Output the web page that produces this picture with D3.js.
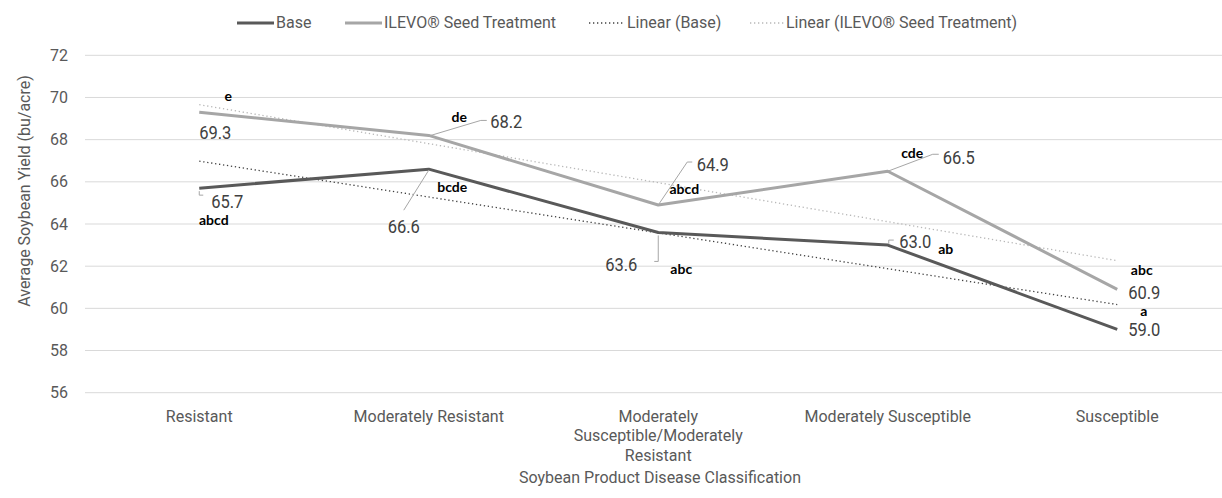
<!DOCTYPE html>
<html><head><meta charset="utf-8">
<script src="https://cdn.jsdelivr.net/npm/d3@7"></script>
<style>
body{margin:0;background:#fff;}
svg{display:block;}
.cond{font-family:Roboto,"Liberation Sans",sans-serif;}
.bold{font-family:Lato,"Open Sans",sans-serif;font-weight:700;}
</style></head>
<body><svg id="c" width="1222" height="498"></svg>
<script>
const categories = ["Resistant","Moderately Resistant","Moderately Susceptible/Moderately Resistant","Moderately Susceptible","Susceptible"];
const categoryLines = [["Resistant"],["Moderately Resistant"],["Moderately","Susceptible/Moderately","Resistant"],["Moderately Susceptible"],["Susceptible"]];
const baseValues = [65.7, 66.6, 63.6, 63.0, 59.0];
const ilevoValues = [69.3, 68.2, 64.9, 66.5, 60.9];
const baseLetters = ["abcd","bcde","abc","ab","a"];
const ilevoLetters = ["e","de","abcd","cde","abc"];
const yTicks = [56,58,60,62,64,66,68,70,72];
const legendNames = ["Base","ILEVO® Seed Treatment","Linear (Base)","Linear (ILEVO® Seed Treatment)"];

// label layout (pixel offsets from each point)
const baseValOff = [[28,13],[-25,57],[-37,32],[27.5,-4],[27,0]];
const ilevoValOff = [[16,20],[77.5,-14],[54.5,-41],[71,-14],[27,2.5]];
const baseLetOff = [[14.5,32],[23.5,18],[23,36.5],[58,4],[26.5,-18.6]];
const ilevoLetOff = [[29,-16],[30.5,-18.5],[26,-16],[24.5,-18],[24.5,-19.5]];
const baseLeaders = [[[0,3],[0,7],[4,7]],[[0,1],[-25,41]],[[0,3],[0,29],[-4,29]],[[1,-1],[1,-5],[6,-5]],null];
const ilevoLeaders = [null,[[2,0],[52,-15],[58,-15]],[[0,0],[29,-43],[34,-43]],[[0,0],[45,-17],[51,-17]],null];

const svg = d3.select("#c");
const x = d3.scaleBand().domain(categories).range([84.5,1232]).padding(0);
const cx = c => x(c) + x.bandwidth()/2;
const y = d3.scaleLinear().domain([56,72]).range([392.7,55.3]);

svg.append("g").selectAll("line").data(yTicks).join("line")
  .attr("x1",85).attr("x2",1222).attr("y1",d=>y(d)).attr("y2",d=>y(d))
  .attr("stroke","#d9d9d9").attr("stroke-width",1);
svg.append("g").selectAll("text").data(yTicks).join("text").attr("class","cond")
  .attr("x",68).attr("y",d=>y(d)).attr("dy","0.35em").attr("text-anchor","end")
  .attr("font-size",16).attr("fill","#595959").text(d=>d);
const xl = svg.append("g");
categories.forEach((c,i)=>{
  const t = xl.append("text").attr("class","cond").attr("text-anchor","middle")
    .attr("font-size",16).attr("fill","#595959");
  categoryLines[i].forEach((ln,j)=>{
    t.append("tspan").attr("x",cx(c)).attr("y",416+j*19.5).attr("dy","0.35em").text(ln);
  });
});
svg.append("text").attr("class","cond").attr("x",660).attr("y",477).attr("dy","0.35em")
  .attr("text-anchor","middle").attr("font-size",16).attr("fill","#595959")
  .text("Soybean Product Disease Classification");
svg.append("text").attr("class","cond").attr("transform","translate(24,191) rotate(-90)")
  .attr("dy","0.35em").attr("text-anchor","middle").attr("font-size",16).attr("fill","#595959")
  .text("Average Soybean Yield (bu/acre)");

function trend(vals){
  const n=vals.length, xs=vals.map((v,i)=>i+1);
  const mx=d3.mean(xs), my=d3.mean(vals);
  const b=d3.sum(xs.map((xx,i)=>(xx-mx)*(vals[i]-my)))/d3.sum(xs.map(xx=>(xx-mx)**2));
  const a=my-b*mx;
  return [[0,a+b*1],[n-1,a+b*n]];
}
const line = d3.line().x(d=>cx(categories[d[0]])).y(d=>y(d[1]));
svg.append("path").datum(trend(baseValues)).attr("d",line).attr("fill","none")
  .attr("stroke","#404040").attr("stroke-width",1.3).attr("stroke-dasharray","1.3,2.7");
svg.append("path").datum(trend(ilevoValues)).attr("d",line).attr("fill","none")
  .attr("stroke","#b8b8b8").attr("stroke-width",1.3).attr("stroke-dasharray","1.3,2.7");

svg.append("path").datum(ilevoValues.map((v,i)=>[i,v])).attr("d",line).attr("fill","none")
  .attr("stroke","#a6a6a6").attr("stroke-width",3).attr("stroke-linejoin","round");
svg.append("path").datum(baseValues.map((v,i)=>[i,v])).attr("d",line).attr("fill","none")
  .attr("stroke","#595959").attr("stroke-width",3).attr("stroke-linejoin","round");

function labels(vals, valOff, letters, letOff, leaders){
  const g = svg.append("g");
  vals.forEach((v,i)=>{
    const px=cx(categories[i]), py=y(v);
    if(leaders[i]){
      g.append("path").attr("d",d3.line()(leaders[i].map(p=>[px+p[0],py+p[1]])))
        .attr("fill","none").attr("stroke","#a6a6a6").attr("stroke-width",1);
    }
    g.append("text").attr("class","cond")
      .attr("transform",`translate(${px+valOff[i][0]},${py+valOff[i][1]}) scale(0.87,1)`)
      .attr("dy","0.35em").attr("text-anchor","middle").attr("font-size",19).attr("fill","#404040")
      .text(v.toFixed(1));
    g.append("text").attr("class","bold").attr("x",px+letOff[i][0]).attr("y",py+letOff[i][1])
      .attr("dy","0.35em").attr("text-anchor","middle").attr("font-size",14).attr("fill","#000")
      .text(letters[i]);
  });
}
labels(baseValues, baseValOff, baseLetters, baseLetOff, baseLeaders);
labels(ilevoValues, ilevoValOff, ilevoLetters, ilevoLetOff, ilevoLeaders);

const leg = [
  {x1:237,x2:274,tx:276,stroke:"#595959",w:3,dash:null},
  {x1:345,x2:382,tx:384,stroke:"#a6a6a6",w:3,dash:null},
  {x1:589,x2:625,tx:627,stroke:"#404040",w:1.3,dash:"1.3,2.7"},
  {x1:750,x2:784,tx:786,stroke:"#b8b8b8",w:1.3,dash:"1.3,2.7"}
];
leg.forEach((l,i)=>{
  svg.append("line").attr("x1",l.x1).attr("x2",l.x2).attr("y1",23).attr("y2",23)
    .attr("stroke",l.stroke).attr("stroke-width",l.w).attr("stroke-dasharray",l.dash);
  svg.append("text").attr("class","cond").attr("x",l.tx).attr("y",22).attr("dy","0.35em")
    .attr("font-size",16).attr("fill","#595959").text(legendNames[i]);
});
</script></body></html>
